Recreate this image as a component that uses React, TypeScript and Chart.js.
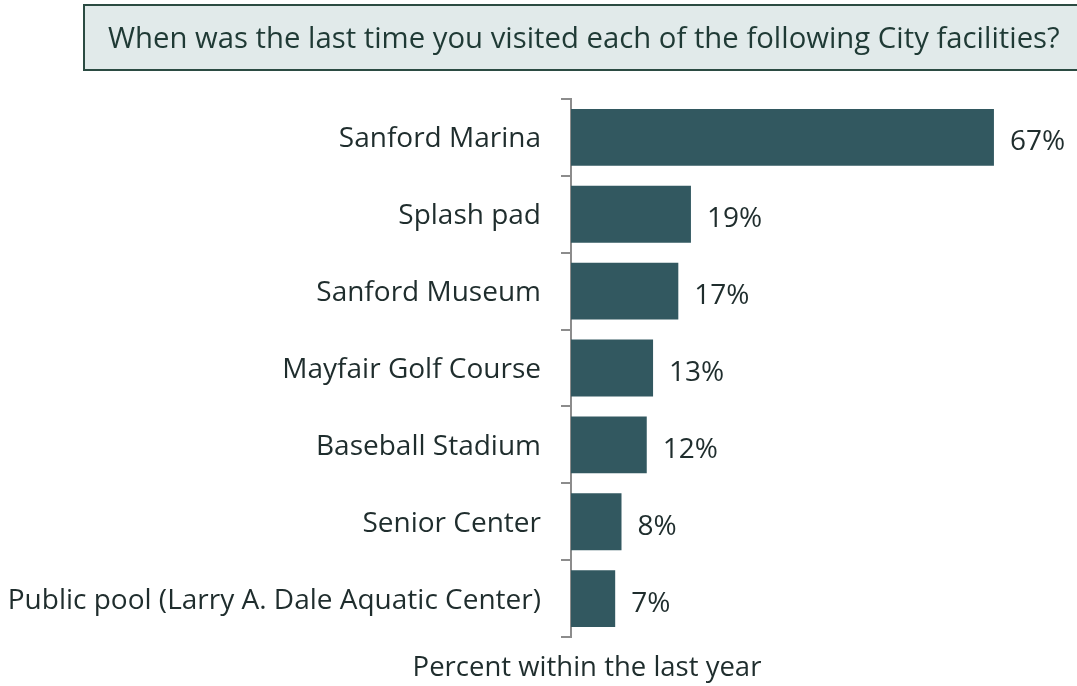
import React, { useEffect, useRef } from "react";
import { Chart, registerables } from "chart.js";

Chart.register(...registerables);

const TITLE = "When was the last time you visited each of the following City facilities?";
const X_TITLE = "Percent within the last year";
const categories = [
  "Sanford Marina",
  "Splash pad",
  "Sanford Museum",
  "Mayfair Golf Course",
  "Baseball Stadium",
  "Senior Center",
  "Public pool (Larry A. Dale Aquatic Center)",
];
const values = [67, 19, 17, 13, 12, 8, 7];

const FONT = "'Open Sans', 'Noto Sans', sans-serif";
const BAR_COLOR = "#325860";
const TEXT_COLOR = "#1f2d2d";

const overlayPlugin = {
  id: "overlay",
  beforeDraw(chart: any) {
    const ctx = chart.ctx;
    ctx.save();
    ctx.fillStyle = "#e1eaea";
    ctx.fillRect(84, 5, 1000, 65);
    ctx.strokeStyle = "#2b4b42";
    ctx.lineWidth = 2;
    ctx.strokeRect(84, 5, 1000, 65);
    ctx.fillStyle = "#1f3a35";
    ctx.font = `29.3px ${FONT}`;
    ctx.textBaseline = "middle";
    ctx.textAlign = "left";
    ctx.fillText(TITLE, 108, 40);
    ctx.fillStyle = TEXT_COLOR;
    ctx.textAlign = "center";
    ctx.font = `27.5px ${FONT}`;
    ctx.fillText(X_TITLE, 587, 668);
    ctx.restore();
  },
  afterDatasetsDraw(chart: any) {
    const ctx = chart.ctx;
    const meta = chart.getDatasetMeta(0);
    ctx.save();
    ctx.fillStyle = TEXT_COLOR;
    ctx.font = `28px ${FONT}`;
    ctx.textBaseline = "middle";
    ctx.textAlign = "left";
    meta.data.forEach((bar: any, i: number) => {
      ctx.fillText(values[i] + "%", bar.x + 16, bar.y + 5);
    });
    ctx.restore();
  },
};

export default function App() {
  const ref = useRef<HTMLCanvasElement | null>(null);
  useEffect(() => {
    if (!ref.current) return;
    const chart = new Chart(ref.current, {
      type: "bar",
      data: {
        labels: categories,
        datasets: [
          {
            data: values,
            backgroundColor: BAR_COLOR,
            borderWidth: 0,
            barPercentage: 0.74,
            categoryPercentage: 1,
          },
        ],
      },
      options: {
        indexAxis: "y",
        animation: false,
        responsive: false,
        maintainAspectRatio: false,
        layout: { padding: { top: 99, right: 1, bottom: 49, left: 0 } },
        plugins: { legend: { display: false }, tooltip: { enabled: false }, title: { display: false } },
        scales: {
          x: { display: false, min: 0, max: 80 },
          y: {
            afterFit(scale: any) {
              scale.width = 571;
            },
            border: { display: true, color: "#8c8c8c", width: 2 },
            grid: {
              display: true,
              offset: true,
              drawOnChartArea: false,
              drawTicks: true,
              tickLength: 10,
              color: "#8c8c8c",
              lineWidth: 2,
            },
            ticks: {
              color: TEXT_COLOR,
              font: { family: FONT, size: 28 },
              padding: 20,
              labelOffset: 2,
            },
          },
        },
      },
      plugins: [overlayPlugin],
    });
    return () => chart.destroy();
  }, []);
  return (
    <div style={{ position: "absolute", left: 0, top: 0, width: 1077, height: 686 }}>
      <canvas ref={ref} width={1077} height={686} style={{ display: "block" }} />
    </div>
  );
}
